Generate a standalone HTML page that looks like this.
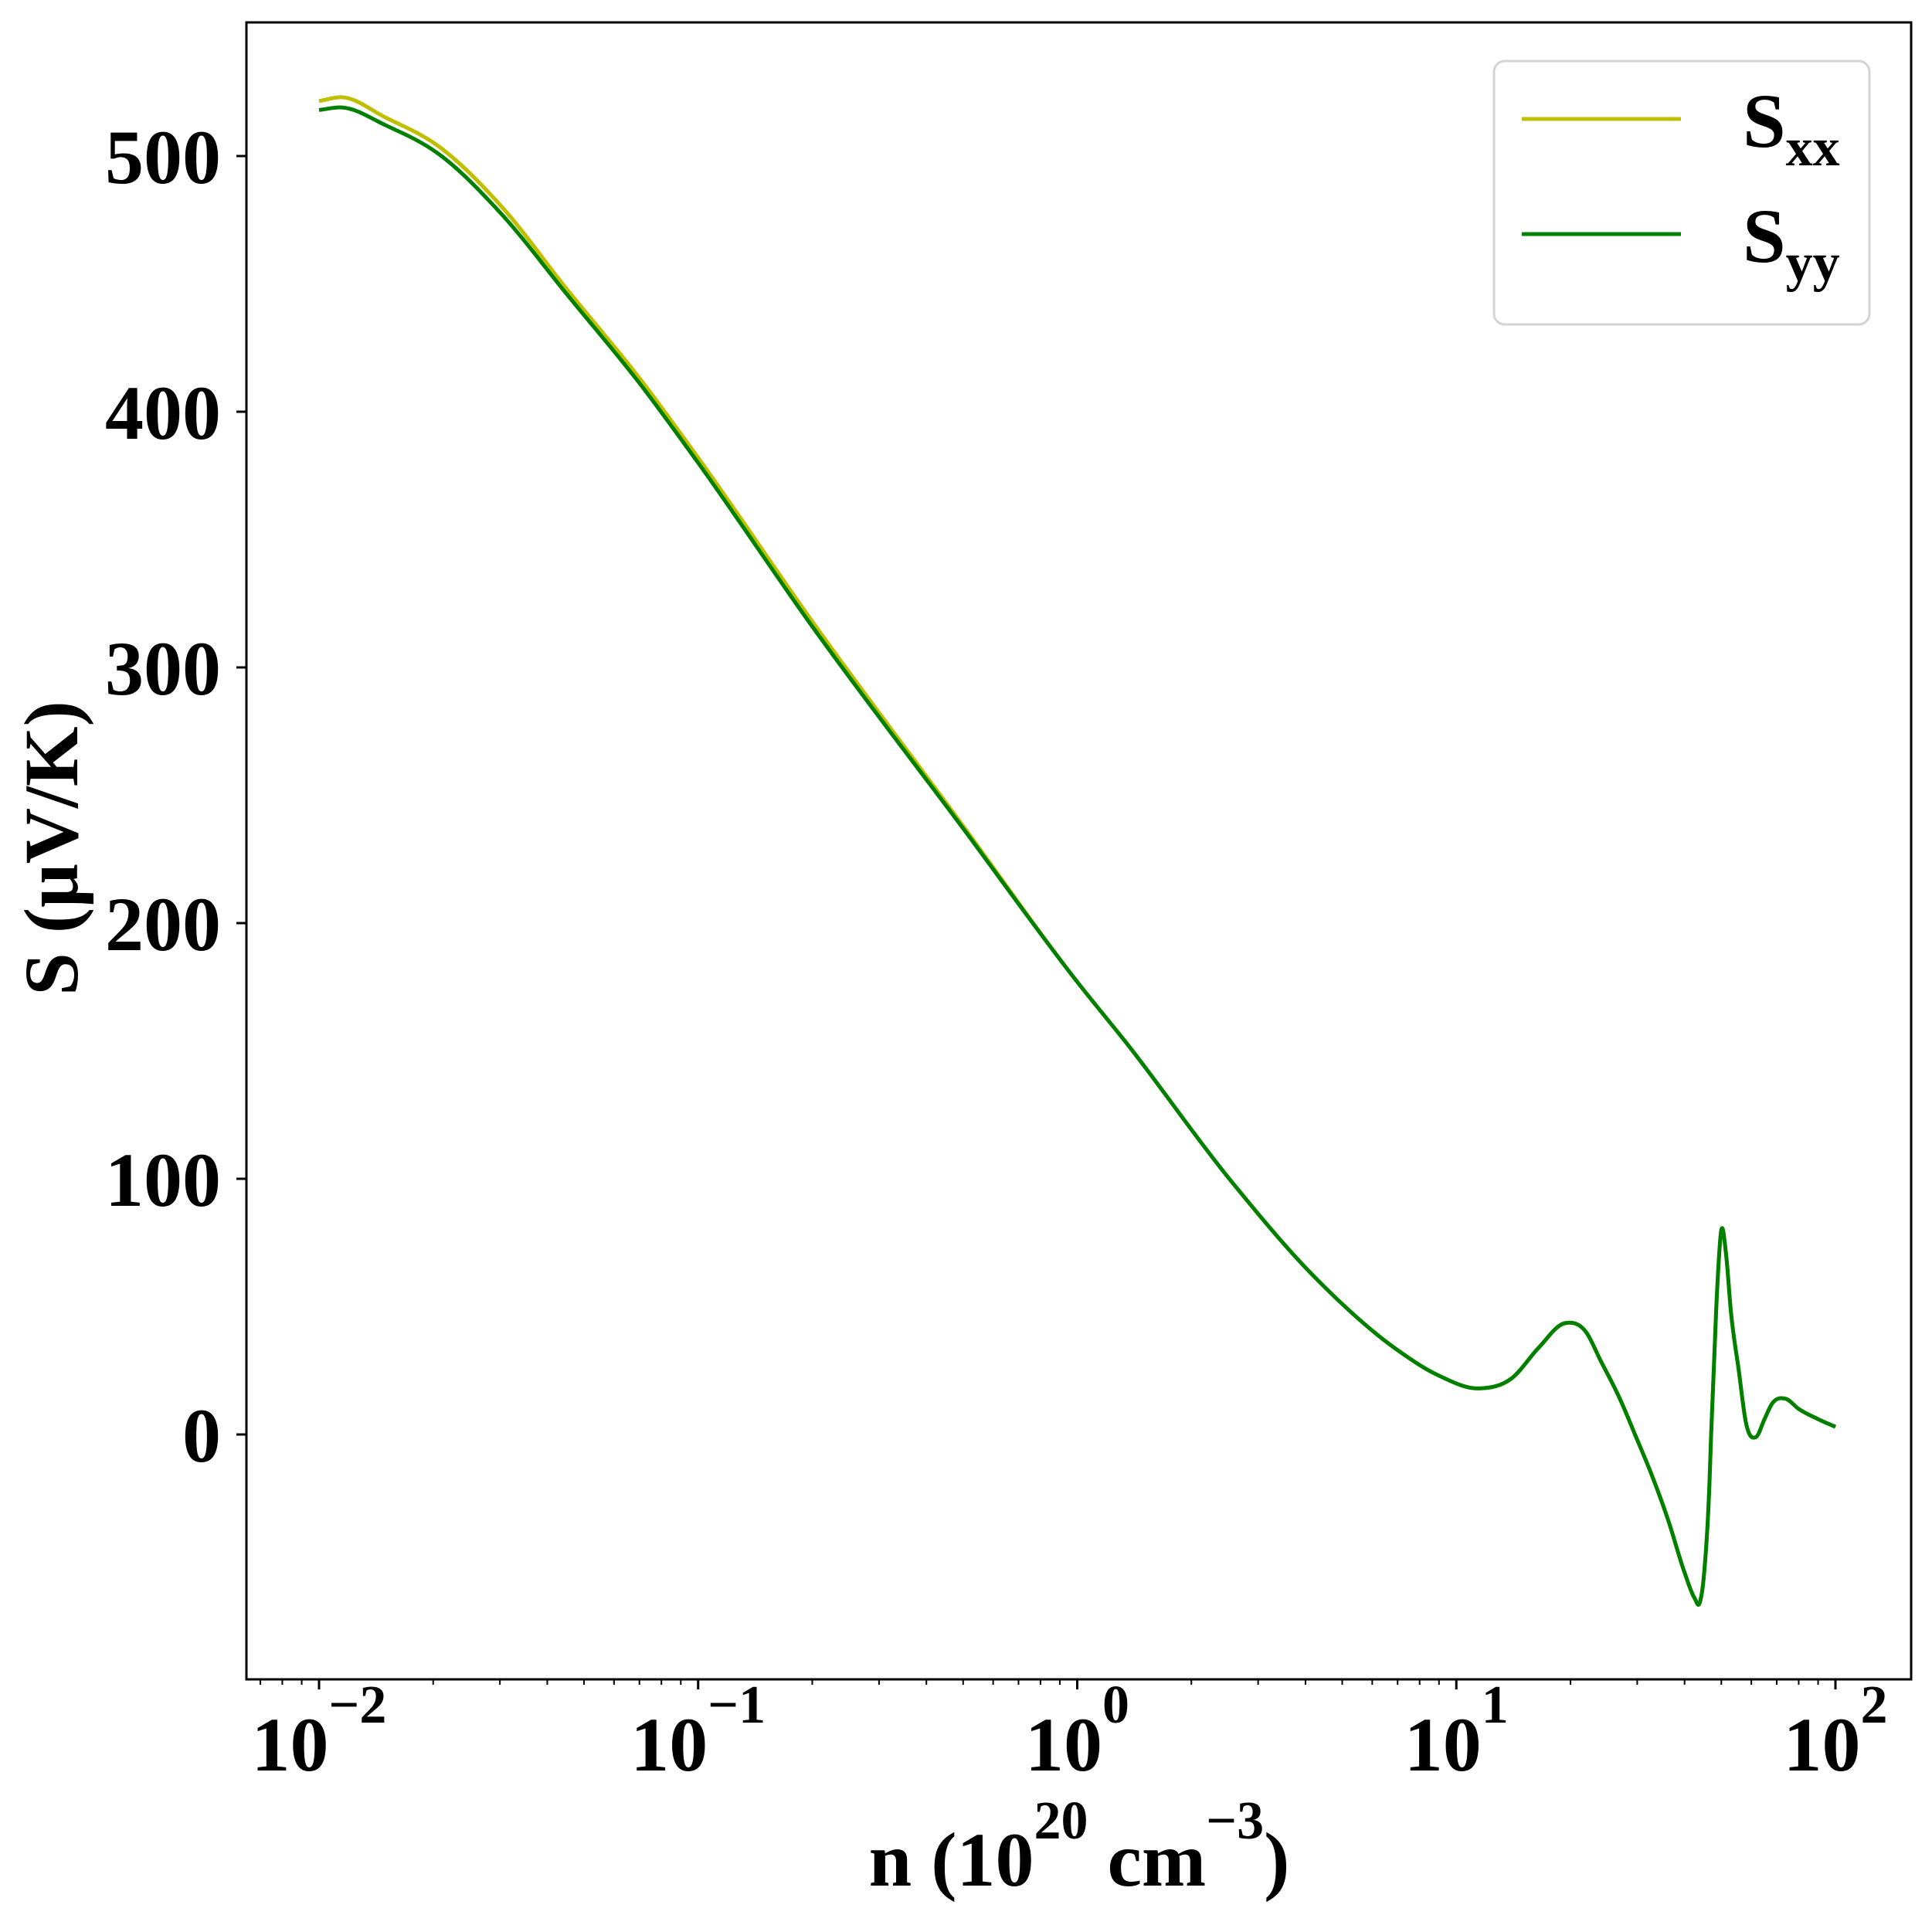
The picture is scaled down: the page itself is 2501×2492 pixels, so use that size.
<!DOCTYPE html>
<html><head><meta charset="utf-8"><style>
html,body{margin:0;padding:0;background:#fff}
svg{display:block}
text{font-family:"Liberation Serif","DejaVu Serif",serif;font-weight:bold;fill:#000}
</style></head><body>
<svg id="chart" xmlns="http://www.w3.org/2000/svg" width="2501" height="2492" viewBox="0 0 2501 2492">
<rect x="0" y="0" width="2501" height="2492" fill="#fff"/>
<g id="grid"></g>
<g id="lines"></g>
<rect x="319" y="29" width="2155" height="2145" fill="none" stroke="#000" stroke-width="3"/>
<g>
<rect x="1934" y="79" width="486" height="341" rx="14" fill="#fff" fill-opacity="0.8" stroke="#d3d3d3" stroke-width="3"/>
<line x1="1970" y1="154" x2="2176" y2="154" stroke="#bfbf00" stroke-width="5"/>
<text x="2256" y="190" font-size="100">S<tspan font-size="70" dy="24">xx</tspan></text>
<line x1="1970" y1="303" x2="2176" y2="303" stroke="#008000" stroke-width="5"/>
<text x="2256" y="339" font-size="100">S<tspan font-size="70" dy="24">yy</tspan></text>
</g>
<text x="1397" y="2441" font-size="100" text-anchor="middle">n (10<tspan font-size="70" dy="-61">20</tspan><tspan dy="61"> cm</tspan><tspan font-size="70" dy="-61">−3</tspan><tspan dy="61">)</tspan></text>
<text transform="translate(100,1098) rotate(-90)" font-size="100" text-anchor="middle">S (μV/K)</text>
</svg>
<script>
const nValues = [0.01,0.0115,0.015,0.0206,0.03,0.045,0.071,0.1,0.2,0.5,1,1.35,2.55,4.2,7,9,11.5,14,16.5,19.3,22,24,27,29.6,33,36.3,40,42.5,43.8,45,46.5,47,48.5,50,51.5,53,55.6,58,61.7,65,68,73.8,80,90,100];
const sxxValues = [521.5,523,515,504,481,448,412,382,318,238,177,153,99,62,33,23,18,22,34,43.5,40,29,14,0,-17,-34,-54,-64,-66,-55,-20,0,50,80,70,48,25,5,-1,6,12,14,10,6,3];
const syyValues = [518,519,512,501,478,446,410,380,316,237,177,153,99,62,33,23,18,22,34,43.5,40,29,14,0,-17,-34,-54,-64,-66,-55,-20,0,50,80,70,48,25,5,-1,6,12,14,10,6,3];
const yTicks = [0,100,200,300,400,500];
const xDecades = [-2,-1,0,1,2];

const NS = "http://www.w3.org/2000/svg";
const PL = 319, PR = 2474, PT = 29, PB = 2174;
function xScale(v){ return 413 + (Math.log10(v) + 2) * 490.75; }
function yScale(v){ return 1857 - v * 3.31; }

const grid = document.getElementById('grid');
const lines = document.getElementById('lines');
function mk(tag, attrs, parent){
  const e = document.createElementNS(NS, tag);
  for (const k in attrs) e.setAttribute(k, attrs[k]);
  parent.appendChild(e);
  return e;
}

yTicks.forEach(v => {
  const y = yScale(v);
  const t = mk('line', {x1: PL - 13, x2: PL, y1: y, y2: y, stroke: '#000', 'stroke-width': 3}, grid);
  
  
  const l = mk('text', {x: 286, y: y + 35, 'font-size': 100, 'text-anchor': 'end'}, grid);
  l.textContent = String(v);
  
  
});

for (let d = -3; d <= 2; d++) {
  for (let m = 1; m <= 9; m++) {
    const v = m * Math.pow(10, d);
    const x = xScale(v);
    if (x < PL || x > PR) continue;
    const major = (m === 1);
    const t = mk('line', {x1: x, x2: x, y1: PB, y2: PB + (major ? 13 : 7), stroke: '#000', 'stroke-width': major ? 3 : 2}, grid);
    
    
  }
}
xDecades.forEach(d => {
  const x = xScale(Math.pow(10, d));
  const l = mk('text', {x: x, y: 2292, 'font-size': 100, 'text-anchor': 'middle'}, grid);
  
  
  const base = document.createElementNS(NS, 'tspan');
  base.textContent = '10';
  l.appendChild(base);
  const sup = document.createElementNS(NS, 'tspan');
  sup.setAttribute('font-size', '70');
  sup.setAttribute('dy', '-62');
  sup.textContent = d < 0 ? '−' + (-d) : String(d);
  l.appendChild(sup);
});

function smoothPath(xs, ys){
  const px = xs.map(xScale), py = ys.map(yScale);
  const n = px.length;
  // tangent estimates (finite differences in pixel space, non-uniform spacing)
  const m = [];
  for (let i = 0; i < n; i++) {
    if (i === 0) m.push((py[1] - py[0]) / (px[1] - px[0]));
    else if (i === n - 1) m.push((py[n-1] - py[n-2]) / (px[n-1] - px[n-2]));
    else {
      const s0 = (py[i] - py[i-1]) / (px[i] - px[i-1]);
      const s1 = (py[i+1] - py[i]) / (px[i+1] - px[i]);
      const h0 = px[i] - px[i-1], h1 = px[i+1] - px[i];
      m.push((s0 * h1 + s1 * h0) / (h0 + h1));
    }
  }
  let d = 'M' + px[0].toFixed(1) + ',' + py[0].toFixed(1);
  for (let i = 0; i < n - 1; i++) {
    const h = px[i+1] - px[i];
    const c1x = px[i] + h / 3, c1y = py[i] + m[i] * h / 3;
    const c2x = px[i+1] - h / 3, c2y = py[i+1] - m[i+1] * h / 3;
    d += ' C' + c1x.toFixed(1) + ',' + c1y.toFixed(1) + ' ' + c2x.toFixed(1) + ',' + c2y.toFixed(1) + ' ' + px[i+1].toFixed(1) + ',' + py[i+1].toFixed(1);
  }
  return d;
}
const pxx = mk('path', {d: smoothPath(nValues, sxxValues), fill: 'none', stroke: '#bfbf00', 'stroke-width': 5, 'stroke-linejoin': 'round'}, lines);


const pyy = mk('path', {d: smoothPath(nValues, syyValues), fill: 'none', stroke: '#008000', 'stroke-width': 5, 'stroke-linejoin': 'round'}, lines);


</script>
</body></html>
